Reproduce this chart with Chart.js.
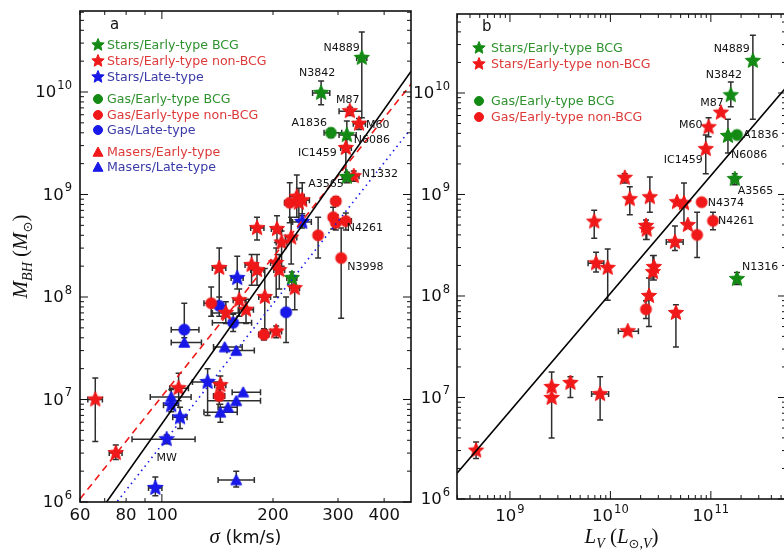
<!DOCTYPE html>
<html>
<head>
<meta charset="utf-8">
<title>M_BH relations</title>
<script src="https://cdn.jsdelivr.net/npm/chart.js@4.4.1/dist/chart.umd.min.js"></script>
<style>
  html, body { margin: 0; padding: 0; background: #fff; overflow: hidden; }
  body { width: 784px; height: 554px; position: relative; }
  canvas { position: absolute; top: 0; }
  #chartA { left: 0; }
  #chartB { left: 405px; }
</style>
</head>
<body>
<canvas id="chartA" width="420" height="554"></canvas>
<canvas id="chartB" width="400" height="554"></canvas>
<script>
const GREEN = '#138a13';
const RED = '#f01818';
const BLUE = '#1818e8';

// tick labels
const sigmaTicks = [60, 80, 100, 200, 300, 400];
const massTicks = [1e6, 1e7, 1e8, 1e9, 1e10];
const lumTicks = [1e9, 1e10, 1e11];

// Panel a: rows are [name, sigma, mass, sigmaLo, sigmaHi, massLo, massHi]
const aStarsBcg = [
    ['N4889', 348, 2.15e10, 337, 359, 5.6e9, 3.85e10],
    ['N3842', 270, 9.8e9, 256, 285, 7.5e9, 1.28e10],
    ['N6086', 317, 3.8e9, 302, 336, 2.6e9, 5.2e9],
    ['A3565', 317, 1.48e9, 308, 326, 1.3e9, 1.65e9],
    ['', 225, 1.53e8, 218, 232, 1.3e8, 1.75e8]
];
const aStarsNonBcg = [
    ['M87', 323, 6.5e9, 302, 348, 5.9e9, 7.1e9],
    ['M60', 342, 4.9e9, 330, 356, 4.3e9, 5.5e9],
    ['IC1459', 315, 2.84e9, 305, 326, 1.55e9, 3.5e9],
    ['N1332', 331, 1.51e9, 320, 342, 1.35e9, 1.7e9],
    ['', 232, 9.5e8, 222, 243, 6.0e8, 1.55e9],
    ['', 240, 8.8e8, 229, 251, 6.5e8, 1.3e9],
    ['', 235, 8.3e8, 224, 246, 5.5e8, 1.15e9],
    ['', 181, 4.7e8, 174, 189, 3.6e8, 6.0e8],
    ['', 205, 4.6e8, 198, 212, 3.4e8, 6.2e8],
    ['', 211, 3.4e8, 204, 218, 2.0e8, 4.4e8],
    ['', 224, 3.8e8, 216, 232, 2.1e8, 6.0e8],
    ['', 143, 1.92e8, 137, 149, 8.7e7, 3.0e8],
    ['', 175, 2.05e8, 168, 182, 1.3e8, 2.6e8],
    ['', 181, 1.83e8, 174, 189, 1.3e8, 2.6e8],
    ['', 204, 2.15e8, 197, 211, 1.0e8, 3.0e8],
    ['', 208, 1.83e8, 201, 215, 1.2e8, 2.6e8],
    ['', 229, 1.22e8, 222, 236, 7.5e7, 1.6e8],
    ['', 190, 1.0e8, 183, 197, 4.8e7, 1.9e8],
    ['', 162, 9.3e7, 156, 168, 6.5e7, 1.2e8],
    ['', 149, 7.0e7, 137, 162, 5.5e7, 9.0e7],
    ['', 169, 7.5e7, 161, 177, 5.5e7, 9.5e7],
    ['', 204, 4.6e7, 197, 211, 4.0e7, 5.2e7],
    ['', 144, 1.38e7, 139, 149, 1.1e7, 1.7e7],
    ['', 111, 1.29e7, 105, 118, 9.7e6, 1.8e7],
    ['', 66, 1.0e7, 63, 69, 3.9e6, 1.62e7],
    ['', 75, 3.0e6, 72, 78, 2.6e6, 3.6e6]
];
const aStarsLate = [
    ['', 240, 5.4e8, 226, 254, 4.7e8, 6.2e8],
    ['', 160, 1.53e8, 154, 166, 1.2e8, 2.5e8],
    ['', 133, 1.48e7, 121, 145, 7.0e6, 2.0e7],
    ['', 106, 8.8e6, 101, 111, 7.6e6, 1.0e7],
    ['', 112, 6.7e6, 107, 117, 5.2e6, 8.4e6],
    ['MW', 103, 4.1e6, 83, 123, 3.7e6, 4.5e6],
    ['', 96, 1.37e6, 92, 100, 1.15e6, 1.75e6]
];
const aGasBcg = [
    ['A1836', 287, 4.0e9, 275, 307, 3.6e9, 4.4e9]
];
const aGasNonBcg = [
    ['', 296, 8.6e8, 288, 304, 7.8e8, 9.5e8],
    ['', 291, 6.0e8, 284, 298, 4.6e8, 7.5e8],
    ['', 296, 5.3e8, 289, 303, 4.5e8, 6.3e8],
    ['N4261', 315, 5.5e8, 305, 326, 4.5e8, 6.6e8],
    ['', 265, 4.0e8, 259, 271, 2.4e8, 6.0e8],
    ['N3998', 306, 2.4e8, 300, 312, 6.2e7, 4.7e8],
    ['', 222, 8.3e8, 215, 229, 5.3e8, 1.3e9],
    ['', 136, 8.7e7, 130, 142, 6.5e7, 1.25e8],
    ['', 189, 4.3e7, 183, 195, 3.8e7, 4.9e7],
    ['', 143, 1.08e7, 138, 148, 9.0e6, 1.3e7]
];
const aGasLate = [
    ['', 143, 8.2e7, 137, 149, 6.5e7, 1.0e8],
    ['', 156, 5.6e7, 137, 175, 4.6e7, 6.8e7],
    ['', 217, 7.1e7, 211, 223, 3.6e7, 1.0e8],
    ['', 115, 4.8e7, 106, 126, 4.0e7, 8.7e7]
];
const aMasersLate = [
    ['', 115, 3.6e7, 106, 128, 3.3e7, 4.0e7],
    ['', 148, 3.25e7, 138, 165, null, null],
    ['', 159, 3.0e7, 150, 178, null, null],
    ['', 106, 1.06e7, 93, 120, 9.0e6, 1.25e7],
    ['', 166, 1.18e7, 155, 185, null, null],
    ['', 159, 9.7e6, 133, 185, null, null],
    ['', 151, 8.4e6, 142, 160, null, null],
    ['', 144, 7.5e6, 130, 160, 6.0e6, 9.0e6],
    ['', 159, 1.64e6, 142, 178, 1.4e6, 2.0e6]
];
// fit lines, panel a: [sigma, mass] end points
const aFitAll = [[60, 4.3e5], [480, 1.71e10]];
const aFitEarly = [[60, 1.07e6], [480, 1.27e10]];
const aFitLate = [[60, 3.5e5], [480, 4.7e9]];

// Panel b: rows are [name, L_V, mass, lumLo, lumHi, massLo, massHi]
const bStarsBcg = [
    ['N4889', 2.62e11, 2.07e10, null, null, 5.5e9, 3.7e10],
    ['N3842', 1.58e11, 9.5e9, null, null, 7.3e9, 1.28e10],
    ['N6086', 1.48e11, 3.77e9, null, null, 2.56e9, 5.5e9],
    ['A3565', 1.73e11, 1.42e9, 1.6e11, 1.87e11, 1.25e9, 1.6e9],
    ['N1316', 1.82e11, 1.47e8, null, null, 1.3e8, 1.7e8]
];
const bStarsNonBcg = [
    ['M87', 1.26e11, 6.4e9, null, null, null, null],
    ['M60', 9.5e10, 4.6e9, null, null, 3.7e9, 5.7e9],
    ['IC1459', 8.9e10, 2.8e9, null, null, 1.6e9, 3.86e9],
    ['', 1.39e10, 1.46e9, null, null, 1.3e9, 1.6e9],
    ['', 1.56e10, 9.0e8, null, null, 6.3e8, 1.19e9],
    ['', 2.47e10, 9.4e8, null, null, 6.7e8, 1.49e9],
    ['', 4.6e10, 8.4e8, null, null, null, null],
    ['', 5.4e10, 8.2e8, null, null, 5.2e8, 1.3e9],
    ['', 6.9e9, 5.4e8, null, null, 3.7e8, 7.0e8],
    ['', 2.26e10, 4.9e8, null, null, 3.6e8, 5.6e8],
    ['', 2.3e10, 4.5e8, null, null, 3.6e8, 5.2e8],
    ['', 5.9e10, 5.0e8, null, null, null, null],
    ['', 4.39e10, 3.4e8, 3.6e10, 5.3e10, 2.8e8, 4.9e8],
    ['', 7.2e9, 2.1e8, 6.0e9, 8.6e9, 1.72e8, 2.7e8],
    ['', 9.4e9, 1.89e8, null, null, 9.1e7, 2.9e8],
    ['', 2.71e10, 1.93e8, null, null, 1.44e8, 2.5e8],
    ['', 2.65e10, 1.72e8, null, null, 1.44e8, 2.5e8],
    ['', 2.42e10, 1.0e8, null, null, 5.0e7, 1.5e8],
    ['', 4.49e10, 6.8e7, null, null, 3.15e7, 8.2e7],
    ['', 1.49e10, 4.5e7, 1.2e10, 1.9e10, null, null],
    ['', 2.6e9, 1.27e7, null, null, null, 1.78e7],
    ['', 2.6e9, 9.9e6, null, null, 4.0e6, 1.78e7],
    ['', 4.0e9, 1.39e7, null, null, 1.0e7, 1.6e7],
    ['', 7.9e9, 1.08e7, 6.5e9, 9.6e9, 6.0e6, 1.6e7],
    ['', 4.6e8, 3.0e6, null, null, 2.5e6, 3.65e6]
];
const bGasBcg = [
    ['A1836', 1.82e11, 3.86e9, 1.72e11, 1.93e11, 3.6e9, 4.2e9]
];
const bGasNonBcg = [
    ['N4374', 8.1e10, 8.4e8, null, null, null, null],
    ['N4261', 1.05e11, 5.5e8, null, null, 4.5e8, 6.7e8],
    ['', 7.3e10, 4.0e8, null, null, 2.4e8, 6.7e8],
    ['', 2.26e10, 7.4e7, null, null, 6.0e7, 9.0e7]
];
const bFit = [[2.97e8, 1.79e6], [5.6e11, 1.13e10]];

// label placement: [dx, dy, align] from the marker centre, in pixels
const labelPosA = {
    N4889: [-2, -10, 'right'], N3842: [-4, -20, 'center'], M87: [-2, -11, 'center'],
    M60: [7, 1, 'left'], A1836: [-4, -10, 'right'], N6086: [7, 5, 'left'],
    IC1459: [-9, 5, 'right'], N1332: [8, -2, 'left'], A3565: [-3, 7, 'right'],
    N4261: [1, 7, 'left'], N3998: [6, 9, 'left'], MW: [0, 19, 'center']
};
const labelPosB = {
    N4889: [-3, -12, 'right'], N3842: [-7, -20, 'center'], M87: [-9, -10, 'center'],
    M60: [-6, -2, 'right'], A1836: [6, 0, 'left'], N6086: [3, 19, 'left'],
    IC1459: [-3, 11, 'right'], A3565: [3, 12, 'left'], N4374: [6, 1, 'left'],
    N4261: [5, 0, 'left'], N1316: [5, -12, 'left']
};

const legendA = [
    ['star', GREEN, '#2f922f', 'Stars/Early-type BCG', 34],
    ['star', RED, '#dd3a3a', 'Stars/Early-type non-BCG', 50],
    ['star', BLUE, '#3a3aa8', 'Stars/Late-type', 66],
    ['circle', GREEN, '#2f922f', 'Gas/Early-type BCG', 88],
    ['circle', RED, '#dd3a3a', 'Gas/Early-type non-BCG', 104],
    ['circle', BLUE, '#3a3aa8', 'Gas/Late-type', 119],
    ['triangle', RED, '#dd3a3a', 'Masers/Early-type', 141],
    ['triangle', BLUE, '#3a3aa8', 'Masers/Late-type', 156]
];
const legendB = [
    ['star', GREEN, '#2f922f', 'Stars/Early-type BCG', 34],
    ['star', RED, '#dd3a3a', 'Stars/Early-type non-BCG', 50],
    ['circle', GREEN, '#2f922f', 'Gas/Early-type BCG', 87],
    ['circle', RED, '#dd3a3a', 'Gas/Early-type non-BCG', 103]
];

function drawMarker(g, shape, cx, cy, r, color) {
    g.fillStyle = color;
    g.strokeStyle = color;
    g.lineWidth = 1;
    g.beginPath();
    if (shape === 'star') {
        for (let i = 0; i < 10; i++) {
            const ang = -Math.PI / 2 + i * Math.PI / 5;
            const rr = i % 2 ? r * 0.45 : r;
            g.lineTo(cx + rr * Math.cos(ang), cy + rr * Math.sin(ang));
        }
    } else if (shape === 'circle') {
        g.arc(cx, cy, r, 0, Math.PI * 2);
    } else {
        g.moveTo(cx, cy - r);
        g.lineTo(cx + r, cy + r * 0.85);
        g.lineTo(cx - r, cy + r * 0.85);
    }
    g.closePath();
    g.fill();
    g.stroke();
}

function markerImage(shape, color, r) {
    const c = document.createElement('canvas');
    const s = Math.ceil(r * 2 + 4);
    c.width = s;
    c.height = s;
    drawMarker(c.getContext('2d'), shape, s / 2, s / 2, r, color);
    return c;
}

function series(rows, shape, color, r) {
    return {
        data: rows.map(p => ({ name: p[0], x: p[1], y: p[2], xLo: p[3], xHi: p[4], yLo: p[5], yHi: p[6] })),
        pointStyle: markerImage(shape, color, r),
        pointRadius: r,
        showLine: false,
        order: 2,
        errors: true
    };
}

function fitLine(pts, color, dash, width) {
    return {
        data: pts.map(p => ({ x: p[0], y: p[1] })),
        showLine: true,
        borderColor: color,
        borderWidth: width,
        borderDash: dash,
        pointRadius: 0,
        fill: false,
        order: 1
    };
}

function logAxis(min, max, size, horizontal) {
    return {
        type: 'logarithmic',
        min: min,
        max: max,
        ticks: { display: false },
        grid: { display: false, drawTicks: false },
        border: { display: false },
        afterFit(s) {
            if (horizontal) s.height = size; else s.width = size;
            s.paddingLeft = 0; s.paddingRight = 0; s.paddingTop = 0; s.paddingBottom = 0;
        }
    };
}

function minorTicks(lo, hi) {
    const out = [];
    for (let e = 5; e <= 12; e++) {
        for (let m = 2; m <= 9; m++) {
            const v = m * Math.pow(10, e);
            if (v > lo && v < hi) out.push(v);
        }
    }
    return out;
}

function drawPow(ctx, exp, x, y, align) {
    ctx.font = '16.5px "DejaVu Sans"';
    const wb = ctx.measureText('10').width;
    ctx.font = '11.5px "DejaVu Sans"';
    const we = ctx.measureText(exp).width;
    const w = wb + we + 1;
    const x0 = align === 'right' ? x - w : x - w / 2;
    ctx.textAlign = 'left';
    ctx.textBaseline = 'middle';
    ctx.font = '16.5px "DejaVu Sans"';
    ctx.fillText('10', x0, y);
    ctx.font = '11.5px "DejaVu Sans"';
    ctx.fillText(exp, x0 + wb + 1, y - 7);
}

// segments: [text, font, baseline shift]
function drawRich(ctx, segs, x, y) {
    let w = 0;
    segs.forEach(s => { ctx.font = s[1]; w += ctx.measureText(s[0]).width; });
    let cx = x - w / 2;
    ctx.textAlign = 'left';
    ctx.textBaseline = 'alphabetic';
    segs.forEach(s => {
        ctx.font = s[1];
        ctx.fillText(s[0], cx, y + s[2]);
        cx += ctx.measureText(s[0]).width;
    });
}

function drawErrors(chart) {
    const { ctx, chartArea: a } = chart;
    const xs = chart.scales.x, ys = chart.scales.y;
    ctx.save();
    ctx.beginPath();
    ctx.rect(a.left, a.top, a.right - a.left, a.bottom - a.top);
    ctx.clip();
    ctx.strokeStyle = '#2e2e2e';
    ctx.lineWidth = 1.5;
    ctx.beginPath();
    chart.data.datasets.forEach(ds => {
        if (!ds.errors) return;
        ds.data.forEach(p => {
            const px = xs.getPixelForValue(p.x), py = ys.getPixelForValue(p.y);
            [p.yLo, p.yHi].forEach(v => {
                if (v == null) return;
                const q = ys.getPixelForValue(v);
                ctx.moveTo(px, py); ctx.lineTo(px, q);
                ctx.moveTo(px - 3, q); ctx.lineTo(px + 3, q);
            });
            [p.xLo, p.xHi].forEach(v => {
                if (v == null) return;
                const q = xs.getPixelForValue(v);
                ctx.moveTo(px, py); ctx.lineTo(q, py);
                ctx.moveTo(q, py - 3); ctx.lineTo(q, py + 3);
            });
        });
    });
    ctx.stroke();
    ctx.restore();
}

function framePlugin(cfg) {
    return {
        id: 'frame' + cfg.letter,
        beforeDatasetsDraw(chart) { drawErrors(chart); },
        afterDatasetsDraw(chart) {
            const { ctx, chartArea: a } = chart;
            const xs = chart.scales.x, ys = chart.scales.y;
            ctx.save();
            ctx.fillStyle = '#111';

            // point names
            ctx.font = '11px "DejaVu Sans"';
            ctx.textBaseline = 'middle';
            chart.data.datasets.forEach(ds => {
                if (!ds.errors) return;
                ds.data.forEach(p => {
                    const pos = cfg.labels[p.name];
                    if (!pos) return;
                    ctx.textAlign = pos[2];
                    ctx.fillText(p.name, xs.getPixelForValue(p.x) + pos[0], ys.getPixelForValue(p.y) + pos[1]);
                });
            });

            // frame with inward ticks on all sides
            ctx.strokeStyle = '#111';
            ctx.lineWidth = 1;
            ctx.beginPath();
            cfg.xTicks.forEach(t => {
                const p = xs.getPixelForValue(t[0]);
                ctx.moveTo(p, a.bottom); ctx.lineTo(p, a.bottom - t[1]);
                ctx.moveTo(p, a.top); ctx.lineTo(p, a.top + t[1]);
            });
            cfg.yTicks.forEach(t => {
                const p = ys.getPixelForValue(t[0]);
                ctx.moveTo(a.left, p); ctx.lineTo(a.left + t[1], p);
                ctx.moveTo(a.right, p); ctx.lineTo(a.right - t[1], p);
            });
            ctx.stroke();
            ctx.lineWidth = 1.6;
            ctx.strokeRect(a.left, a.top, a.right - a.left, a.bottom - a.top);

            // tick labels
            ctx.fillStyle = '#111';
            massTicks.forEach(v => drawPow(ctx, String(Math.round(Math.log10(v))), a.left - cfg.yLabelGap, ys.getPixelForValue(v) + 1, 'right'));
            cfg.xLabels(ctx, xs, a);

            // axis titles
            cfg.titles(ctx, a);

            // panel letter
            ctx.font = '15px "DejaVu Sans"';
            ctx.textAlign = 'left';
            ctx.textBaseline = 'middle';
            ctx.fillText(cfg.letter, a.left + cfg.letterDx, a.top + cfg.letterDy);

            // legend
            cfg.legend.forEach(e => {
                const y = a.top + e[4];
                const r = e[0] === 'star' ? 6.5 : (e[0] === 'circle' ? 4.5 : 5);
                drawMarker(ctx, e[0], a.left + cfg.legMarkX, y, r, e[1]);
                ctx.fillStyle = e[2];
                ctx.font = '12.6px "DejaVu Sans"';
                ctx.textAlign = 'left';
                ctx.textBaseline = 'middle';
                ctx.fillText(e[3], a.left + cfg.legTextX, y + 0.5);
            });
            ctx.restore();
        }
    };
}

const MATH = 'italic 21px "Liberation Serif"';
const MATH_SUB = 'italic 14px "Liberation Serif"';
const ROMAN = '21px "Liberation Serif"';

const sigmaMinor = [70, 90];
const aXTicks = sigmaTicks.concat(sigmaMinor).map(v => [v, v === 100 ? 8 : 4]);
const aYTicks = massTicks.map(v => [v, 8]).concat(minorTicks(1e6, 6.17e10).map(v => [v, 4]));
const bXTicks = lumTicks.map(v => [v, 8]).concat(minorTicks(2.97e8, 5.6e11).map(v => [v, 4]));
const bYTicks = massTicks.map(v => [v, 8]).concat(minorTicks(1e6, 6.0e10).map(v => [v, 4]));

new Chart(document.getElementById('chartA'), {
    type: 'scatter',
    data: {
        datasets: [
            fitLine(aFitAll, '#000', [], 1.6),
            fitLine(aFitEarly, RED, [7, 5], 1.6),
            fitLine(aFitLate, BLUE, [1.5, 4], 1.6),
            series(aStarsBcg, 'star', GREEN, 8),
            series(aStarsNonBcg, 'star', RED, 8),
            series(aStarsLate, 'star', BLUE, 8),
            series(aGasBcg, 'circle', GREEN, 5.5),
            series(aGasNonBcg, 'circle', RED, 5.5),
            series(aGasLate, 'circle', BLUE, 5.5),
            series(aMasersLate, 'triangle', BLUE, 5.5)
        ]
    },
    options: {
        responsive: false,
        animation: false,
        events: [],
        layout: { padding: { left: 0, top: 11, right: 8, bottom: 0 } },
        plugins: { legend: { display: false }, tooltip: { enabled: false } },
        scales: {
            x: logAxis(60, 473, 52, true),
            y: logAxis(1e6, 6.17e10, 80, false)
        }
    },
    plugins: [framePlugin({
        letter: 'a', letterDx: 30, letterDy: 14,
        labels: labelPosA,
        legend: legendA, legMarkX: 18, legTextX: 27,
        xTicks: aXTicks, yTicks: aYTicks, yLabelGap: 8,
        xLabels(ctx, xs, a) {
            ctx.font = '16.5px "DejaVu Sans"';
            ctx.textAlign = 'center';
            ctx.textBaseline = 'middle';
            sigmaTicks.forEach(v => ctx.fillText(String(v), xs.getPixelForValue(v), a.bottom + 14));
        },
        titles(ctx, a) {
            drawRich(ctx, [['σ', 'italic 21px "Liberation Serif"', 0], [' (km/s)', '17.5px "DejaVu Sans"', 0]], (a.left + a.right) / 2, a.bottom + 41);
            ctx.save();
            ctx.translate(27, (a.top + a.bottom) / 2);
            ctx.rotate(-Math.PI / 2);
            drawRich(ctx, [['M', MATH, 0], ['BH', MATH_SUB, 5], [' (', ROMAN, 0], ['M', MATH, 0], ['⊙', '13px "DejaVu Sans"', 5], [')', ROMAN, 0]], 0, 0);
            ctx.restore();
        }
    })]
});

new Chart(document.getElementById('chartB'), {
    type: 'scatter',
    data: {
        datasets: [
            fitLine(bFit, '#000', [], 1.6),
            series(bStarsBcg, 'star', GREEN, 8),
            series(bStarsNonBcg, 'star', RED, 8),
            series(bGasBcg, 'circle', GREEN, 5.5),
            series(bGasNonBcg, 'circle', RED, 5.5)
        ]
    },
    options: {
        responsive: false,
        animation: false,
        events: [],
        layout: { padding: { left: 0, top: 14, right: 19, bottom: 0 } },
        plugins: { legend: { display: false }, tooltip: { enabled: false } },
        scales: {
            x: logAxis(2.97e8, 5.6e11, 55, true),
            y: logAxis(1e6, 6.0e10, 52, false)
        }
    },
    plugins: [framePlugin({
        letter: 'b', letterDx: 25, letterDy: 13,
        labels: labelPosB,
        legend: legendB, legMarkX: 22, legTextX: 34,
        xTicks: bXTicks, yTicks: bYTicks, yLabelGap: 7,
        xLabels(ctx, xs, a) {
            lumTicks.forEach(v => drawPow(ctx, String(Math.round(Math.log10(v))), xs.getPixelForValue(v), a.bottom + 18, 'center'));
        },
        titles(ctx, a) {
            drawRich(ctx, [['L', MATH, 0], ['V', MATH_SUB, 5], [' (', ROMAN, 0], ['L', MATH, 0], ['⊙', '13px "DejaVu Sans"', 5], [',V', MATH_SUB, 5], [')', ROMAN, 0]], (a.left + a.right) / 2, a.bottom + 44);
        }
    })]
});
</script>
</body>
</html>
